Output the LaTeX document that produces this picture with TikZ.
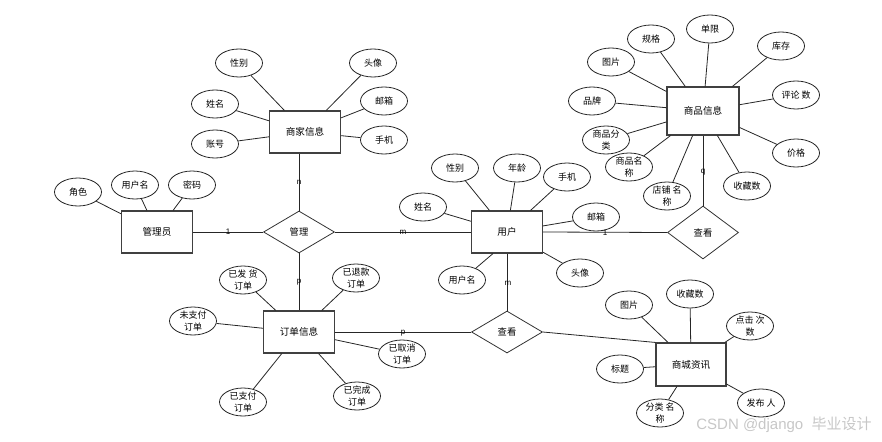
\documentclass[tikz,border=0pt]{standalone}
\usepackage{fontspec}
\setmainfont{Noto Sans CJK SC}
\newfontfamily\wmfont{Liberation Sans}
\usetikzlibrary{shapes.geometric}
\begin{document}
\begin{tikzpicture}[x=1pt,y=-1pt,
 ent/.style={draw=black!75, line width=1.1pt, minimum width=71pt, minimum height=42pt, inner sep=0pt, font=\fontsize{9.6}{10}\selectfont},
 rel/.style={diamond, draw=black!80, line width=0.8pt, minimum width=71pt, minimum height=42pt, inner sep=0pt, font=\fontsize{9.3}{10}\selectfont},
 attr/.style={ellipse, draw=black!85, line width=0.8pt, minimum width=47pt, minimum height=28pt, inner xsep=0pt, inner ysep=-4pt, align=center, font=\fontsize{9}{12.5}\selectfont},
 card/.style={inner sep=0pt, font=\wmfont\fontsize{8}{8}\selectfont},
 conn/.style={draw=black!85, line width=0.8pt}]
\useasboundingbox (0,0) rectangle (882,441);
% entities and relations
\node[ent] (sj) at (305,132) {商家信息};
\node[ent] (gly) at (157,232) {管理员};
\node[rel] (gl) at (299,232) {管理};
\node[ent] (yh) at (507,232) {用户};
\node[rel, minimum height=53pt] (ck1) at (703,232.5) {查看};
\node[ent, minimum width=72pt, minimum height=48pt] (sp) at (703,111) {商品信息};
\node[ent] (dd) at (299,332) {订单信息};
\node[rel] (ck2) at (507,332) {查看};
\node[ent, minimum width=70pt, minimum height=43pt] (zx) at (691,364.5) {商城资讯};
% attributes of 商家信息
\node[attr] (sjxb) at (239,63) {性别};
\node[attr] (sjtx) at (373,63) {头像};
\node[attr] (sjxm) at (215,104) {姓名};
\node[attr] (sjyx) at (384,101) {邮箱};
\node[attr] (sjzh) at (215,144) {账号};
\node[attr] (sjsj) at (384,140) {手机};
% attributes of 管理员
\node[attr] (js) at (78,192) {角色};
\node[attr] (glyh) at (135,185) {用户名};
\node[attr] (mm) at (192,185) {密码};
% attributes of 用户
\node[attr] (yhxb) at (455,168) {性别};
\node[attr] (nl) at (517,168) {年龄};
\node[attr] (yhsj) at (567,177) {手机};
\node[attr] (yhxm) at (423,207) {姓名};
\node[attr] (yhyx) at (596,217) {邮箱};
\node[attr] (yhm) at (462,280) {用户名};
\node[attr] (yhtx) at (580,273) {头像};
% attributes of 商品信息
\node[attr] (gg) at (651,39) {规格};
\node[attr] (dx) at (710,29) {单限};
\node[attr] (kc) at (781,46) {库存};
\node[attr] (sptp) at (611,62) {图片};
\node[attr] (pls) at (796,95) {评论 数};
\node[attr] (pp) at (592,101) {品牌};
\node[attr] (spfl) at (606,140) {商品分\\类};
\node[attr] (jg) at (796,153) {价格};
\node[attr] (spmc) at (629,167) {商品名\\称};
\node[attr] (dpmc) at (667,196) {店铺 名\\称};
\node[attr] (spsc) at (747,186) {收藏数};
% attributes of 订单信息
\node[attr] (yfh) at (243,280) {已发 货\\订单};
\node[attr] (ytk) at (356,278) {已退款\\订单};
\node[attr] (wzf) at (193,321) {未支付\\订单};
\node[attr] (yqx) at (402,354) {已取消\\订单};
\node[attr] (yzf) at (243,402) {已支付\\订单};
\node[attr] (ywc) at (357,396) {已完成\\订单};
% attributes of 商城资讯
\node[attr] (zxtp) at (629,305) {图片};
\node[attr] (zxsc) at (690,294) {收藏数};
\node[attr] (djcs) at (750,326) {点击 次\\数};
\node[attr] (bt) at (620,369) {标题};
\node[attr] (flmc) at (660,413) {分类 名\\称};
\node[attr] (fbr) at (761,403) {发布 人};
% attribute connectors
\foreach \a/\b in {sjxb/sj,sjtx/sj,sjxm/sj,sjyx/sj,sjzh/sj,sjsj/sj,
  js/gly,glyh/gly,mm/gly,
  yhxb/yh,nl/yh,yhsj/yh,yhxm/yh,yhyx/yh,yhtx/yh,
  gg/sp,dx/sp,kc/sp,sptp/sp,pls/sp,pp/sp,spfl/sp,jg/sp,spmc/sp,dpmc/sp,spsc/sp,
  yfh/dd,ytk/dd,wzf/dd,yqx/dd,yzf/dd,ywc/dd,
  zxtp/zx,zxsc/zx,djcs/zx,bt/zx,flmc/zx,fbr/zx}
  \draw[conn] (\a) -- (\b);
\draw[conn] (yhm) -- ([xshift=-14pt]yh.south);
% relationship connectors
\draw[conn] (gl.north) -- (gl.north |- sj.south);
\draw[conn] (gly.east) -- (gl.west);
\draw[conn] (gl.east) -- (yh.west);
\draw[conn] (gl.south) -- (dd.north);
\draw[conn] (yh.east) -- (ck1.west);
\draw[conn] (ck1.north) -- (sp.south);
\draw[conn] (yh.south) -- (ck2.north);
\draw[conn] (dd.east) -- (ck2.west);
\draw[conn] (ck2.east) -- (zx.north west);
% cardinalities
\node[card] (cn) at (299,182) {n};
\node[card] (c1) at (228,232) {1};
\node[card] (cm) at (403,232) {m};
\node[card] (cp) at (299,282) {p};
\node[card] (cp2) at (403,333) {p};
\node[card] (c12) at (605,233) {1};
\node[card] (cm2) at (508,283) {m};
\node[card] (cq) at (703,172) {q};
% watermark
\node[text=black!22, font=\fontsize{15}{15}\selectfont, inner sep=0pt] (wm) at (784,425) {\wmfont CSDN @django\ \ \rmfamily 毕业设计};
\end{tikzpicture}
\end{document}
